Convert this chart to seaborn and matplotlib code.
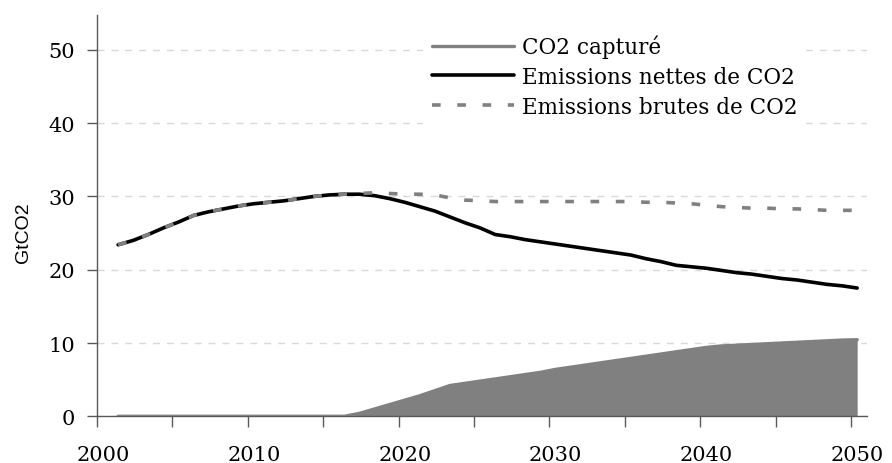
import numpy as np
import pandas as pd
import matplotlib
matplotlib.use("Agg")
import matplotlib.pyplot as plt
import seaborn as sns
from matplotlib.ticker import FixedLocator

# values (GtCO2, yearly 2001-2050)
years = list(range(2001, 2051))

net_emissions = [
    23.4, 24.0, 24.8, 25.7, 26.5, 27.4, 27.9, 28.3, 28.7, 29.0,
    29.2, 29.4, 29.7, 30.0, 30.2, 30.3, 30.3, 30.1, 29.7, 29.2,
    28.6, 28.0, 27.2, 26.4, 25.7, 24.8, 24.5, 24.1, 23.8, 23.5,
    23.2, 22.9, 22.6, 22.3, 22.0, 21.5, 21.1, 20.6, 20.4, 20.2,
    19.9, 19.6, 19.4, 19.1, 18.8, 18.6, 18.3, 18.0, 17.8, 17.5,
]

gross_emissions = [
    23.4, 24.0, 24.8, 25.7, 26.5, 27.4, 27.9, 28.3, 28.7, 29.0,
    29.2, 29.4, 29.7, 30.0, 30.2, 30.3, 30.4, 30.5, 30.4, 30.3,
    30.3, 30.2, 29.8, 29.5, 29.4, 29.3, 29.3, 29.3, 29.3, 29.3,
    29.3, 29.3, 29.3, 29.3, 29.3, 29.2, 29.2, 29.1, 29.0, 28.8,
    28.6, 28.5, 28.4, 28.4, 28.3, 28.3, 28.2, 28.1, 28.1, 28.1,
]

co2_captured = [
    0.0, 0.0, 0.0, 0.0, 0.0, 0.0, 0.0, 0.0, 0.0, 0.0,
    0.0, 0.0, 0.0, 0.0, 0.0, 0.0, 0.4, 1.0, 1.6, 2.2,
    2.8, 3.5, 4.2, 4.5, 4.8, 5.1, 5.4, 5.7, 6.0, 6.4,
    6.7, 7.0, 7.3, 7.6, 7.9, 8.2, 8.5, 8.8, 9.1, 9.4,
    9.6, 9.7, 9.8, 9.9, 10.0, 10.1, 10.2, 10.3, 10.4, 10.45,
]

year_labels = [2000, 2010, 2020, 2030, 2040, 2050]
y_ticks = [0, 10, 20, 30, 40, 50]

df = pd.DataFrame({
    "year": years,
    "net": net_emissions,
    "gross": gross_emissions,
    "captured": co2_captured,
})

sns.set_theme(style="white")
plt.rcParams["font.family"] = ["DejaVu Serif"]
plt.rcParams["text.color"] = "black"
plt.rcParams["axes.labelcolor"] = "black"

GREY = "#808080"

fig = plt.figure(figsize=(8.92, 4.64), dpi=100)
ax = fig.add_axes([97 / 892, 1 - 417.3 / 464, 770 / 892, 401.3 / 464])

# captured CO2 as a filled area with its own outline
ax.fill_between(df["year"], 0, df["captured"], color=GREY, linewidth=0, zorder=2)
sns.lineplot(data=df, x="year", y="captured", ax=ax, color=GREY, linewidth=2.4,
             solid_capstyle="round", label="CO2 capturé", zorder=3)

sns.lineplot(data=df, x="year", y="net", ax=ax, color="black", linewidth=2.6,
             solid_capstyle="round", label="Emissions nettes de CO2", zorder=4)
sns.lineplot(data=df, x="year", y="gross", ax=ax, color=GREY, linewidth=2.6,
             dashes=False, label="Emissions brutes de CO2", zorder=5)
ax.lines[-1].set_dashes((2.4, 4.6))

ax.set_xlim(1999.6, 2050.65)
ax.set_ylim(0, 54.75)

# year labels sit on the years, tick marks every 5 years slightly to the left
ax.xaxis.set_major_locator(FixedLocator(year_labels))
ax.set_xticklabels([str(y) for y in year_labels])
ax.xaxis.set_minor_locator(FixedLocator([1999.6 + 5 * k for k in range(11)]))
ax.tick_params(axis="x", which="major", length=0, pad=21, labelsize=15,
               labelcolor="black")
ax.tick_params(axis="x", which="minor", length=8, width=1, color="#595959",
               direction="out", bottom=True)

ax.set_yticks(y_ticks)
ax.tick_params(axis="y", length=7, width=1, color="#595959", direction="out",
               pad=9, labelsize=15, labelcolor="black", left=True)

for side in ["top", "right"]:
    ax.spines[side].set_visible(False)
for side in ["left", "bottom"]:
    ax.spines[side].set_color("#595959")
    ax.spines[side].set_linewidth(1)

ax.grid(axis="y", color="#d9d9d9", linestyle=(0, (5, 5)), linewidth=1)
ax.grid(axis="x", visible=False)
ax.set_axisbelow(True)

ax.set_xlabel("")
ax.set_ylabel("GtCO2", family=["Liberation Sans", "DejaVu Sans"], fontsize=14,
              color="black")
ax.yaxis.set_label_coords(-0.084, 0.46)

leg = ax.legend(loc="upper left", bbox_to_anchor=(423 / 892, 1 - 27 / 464),
                bbox_transform=fig.transFigure, fontsize=15.5, handlelength=3.85,
                handletextpad=0.33, labelspacing=0.36, borderpad=0.4,
                borderaxespad=0, frameon=True, fancybox=False)
leg.get_frame().set_facecolor("white")
leg.get_frame().set_edgecolor("none")
leg.get_frame().set_alpha(1)
leg.get_lines()[2].set_dashes((2.4, 4.6))
for txt in leg.get_texts():
    txt.set_color("black")

fig.savefig("out.png", dpi=100)
